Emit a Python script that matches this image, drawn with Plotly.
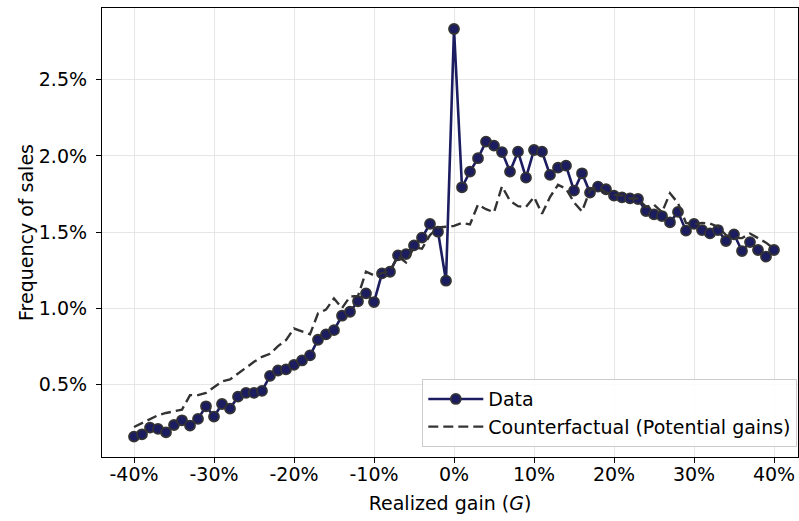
import plotly.graph_objects as go

# Realized gain G (%) from -40 to 40
gain = list(range(-40, 41))

# Frequency of sales (%) - observed data
data_freq = [
    0.156, 0.171, 0.215, 0.206, 0.184, 0.232, 0.263, 0.228, 0.272, 0.355,   # -40..-31
    0.287, 0.370, 0.340, 0.418, 0.443, 0.443, 0.456, 0.555, 0.590, 0.597,   # -30..-21
    0.627, 0.656, 0.689, 0.792, 0.827, 0.855, 0.950, 0.976, 1.045, 1.097,   # -20..-11
    1.040, 1.228, 1.239, 1.347, 1.355, 1.412, 1.463, 1.553, 1.502, 1.180,   # -10..-1
    2.834,                                                                   # 0
    1.794, 1.897, 1.985, 2.094, 2.068, 2.025, 1.897, 2.028, 1.857, 2.039,   # 1..10
    2.028, 1.875, 1.923, 1.936, 1.772, 1.886, 1.759, 1.798, 1.781, 1.739,   # 11..20
    1.728, 1.721, 1.717, 1.638, 1.616, 1.605, 1.564, 1.632, 1.509, 1.553,   # 21..30
    1.513, 1.491, 1.513, 1.441, 1.485, 1.375, 1.434, 1.382, 1.338, 1.382,   # 31..40
]

# Counterfactual (potential gains) frequency (%)
counter_freq = [
    0.219, 0.245, 0.268, 0.296, 0.311, 0.320, 0.333, 0.428, 0.428, 0.443,   # -40..-31
    0.482, 0.518, 0.531, 0.570, 0.614, 0.647, 0.680, 0.700, 0.750, 0.790,   # -30..-21
    0.866, 0.848, 0.828, 0.965, 0.990, 1.064, 1.000, 1.075, 1.080, 1.240,   # -20..-11
    1.215, 1.230, 1.245, 1.340, 1.300, 1.400, 1.390, 1.480, 1.530, 1.535,   # -10..-1
    1.540,                                                                   # 0
    1.560, 1.550, 1.680, 1.650, 1.630, 1.800, 1.705, 1.670, 1.665, 1.730,   # 1..10
    1.620, 1.730, 1.810, 1.785, 1.695, 1.635, 1.775, 1.795, 1.760, 1.745,   # 11..20
    1.740, 1.720, 1.720, 1.665, 1.680, 1.630, 1.755, 1.690, 1.560, 1.550,   # 21..30
    1.560, 1.555, 1.535, 1.480, 1.460, 1.460, 1.490, 1.460, 1.430, 1.390,   # 31..40
]

x_tick_vals = [-40, -30, -20, -10, 0, 10, 20, 30, 40]
x_tick_text = ["-40%", "-30%", "-20%", "-10%", "0%", "10%", "20%", "30%", "40%"]
y_tick_vals = [0.5, 1.0, 1.5, 2.0, 2.5]
y_tick_text = ["0.5%", "1.0%", "1.5%", "2.0%", "2.5%"]

FONT = "DejaVu Sans"
FS = 19

fig = go.Figure()
fig.add_trace(go.Scatter(
    x=gain, y=data_freq, mode="lines+markers", name="Data",
    line=dict(color="#1c1c60", width=2.6),
    marker=dict(size=10, color="#1c1c60", line=dict(color="#333333", width=1.8)),
))
fig.add_trace(go.Scatter(
    x=gain, y=counter_freq, mode="lines", name="Counterfactual (Potential gains)",
    line=dict(color="#333333", width=2.4, dash="10px,5px"),
))

fig.update_layout(
    width=799, height=521,
    margin=dict(l=102, r=1, t=8, b=64),
    paper_bgcolor="white", plot_bgcolor="white",
    font=dict(family=FONT, size=FS, color="#000000"),
    showlegend=True,
    legend=dict(
        x=0.999, y=0.022, xanchor="right", yanchor="bottom",
        bgcolor="rgba(255,255,255,0.85)", bordercolor="#cccccc", borderwidth=1,
        font=dict(family=FONT, size=FS), tracegroupgap=0, itemwidth=55,
    ),
    xaxis=dict(
        range=[-44, 43], tickvals=x_tick_vals, ticktext=x_tick_text,
        showgrid=True, gridcolor="#e6e6e6", gridwidth=1, zeroline=False,
        showline=True, linecolor="black", linewidth=1.3, mirror=True,
        ticks="outside", ticklen=5, tickwidth=1.2, tickcolor="black",
        ticklabelstandoff=-5,
        title=dict(text="Realized gain (<i>G</i>)", standoff=12, font=dict(family=FONT, size=FS)),
    ),
    yaxis=dict(
        range=[0.0217, 2.972], tickvals=y_tick_vals, ticktext=y_tick_text,
        showgrid=True, gridcolor="#e6e6e6", gridwidth=1, zeroline=False,
        showline=True, linecolor="black", linewidth=1.3, mirror=True,
        ticks="outside", ticklen=5, tickwidth=1.2, tickcolor="black",
        ticklabelstandoff=5,
        title=dict(text="Frequency of sales", standoff=0, font=dict(family=FONT, size=FS)),
    ),
)

fig.write_html("out.html")
